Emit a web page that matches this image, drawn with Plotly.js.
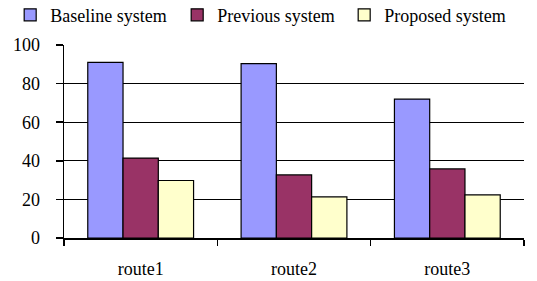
<!DOCTYPE html>
<html>
<head>
<meta charset="utf-8">
<script src="https://cdn.plot.ly/plotly-3.0.1.min.js"></script>
<style>html,body{margin:0;padding:0;background:#fff;}#chart{width:537px;height:281px;}</style>
</head>
<body>
<div id="chart"></div>
<script>
const categories = ["route1", "route2", "route3"];
const seriesNames = ["Baseline system", "Previous system", "Proposed system"];
const baseline = [91, 90.3, 72];
const previous = [41.4, 32.7, 35.8];
const proposed = [29.8, 21.3, 22.3];
const yTicks = [0, 20, 40, 60, 80, 100];
const colors = ["#9999FF", "#993366", "#FFFFCC"];

const values = [baseline, previous, proposed];
const traces = values.map((v, i) => ({
  type: "bar",
  name: seriesNames[i],
  x: categories,
  y: v,
  marker: { color: colors[i], line: { color: "#000", width: 1.2 } },
  hoverinfo: "none"
}));

const FAMILY = "Liberation Serif";
const mkFont = () => ({ family: FAMILY, size: 18, color: "#000" });

const layout = {
  width: 537, height: 281,
  margin: { l: 64, r: 13, t: 45, b: 43, autoexpand: false },
  paper_bgcolor: "#fff", plot_bgcolor: "#fff",
  font: mkFont(),
  barmode: "group",
  bargap: 0.31,
  bargroupgap: 0,
  showlegend: true,
  legend: {
    orientation: "h", xref: "paper", yref: "paper",
    x: -0.117, xanchor: "left", y: 1.155, yanchor: "middle",
    font: mkFont(), entrywidth: 122, entrywidthmode: "pixels",
    itemwidth: 30, tracegroupgap: 0, bgcolor: "rgba(0,0,0,0)"
  },
  xaxis: {
    type: "category",
    showline: true, linecolor: "#000", linewidth: 1.5,
    ticks: "outside", tickson: "boundaries", ticklen: 6, tickcolor: "#000", tickwidth: 1.5,
    showgrid: false, zeroline: false,
    tickfont: mkFont(), ticklabelstandoff: 14
  },
  yaxis: {
    range: [0, 100], tickvals: yTicks, ticktext: yTicks.map(String),
    showline: true, linecolor: "#000", linewidth: 1.5,
    ticks: "outside", ticklen: 7, tickcolor: "#000", tickwidth: 1.5,
    showgrid: true, gridcolor: "#000", gridwidth: 1.2,
    zeroline: false, tickfont: mkFont(), ticklabelstandoff: 12
  }
};

Plotly.newPlot("chart", traces, layout, { staticPlot: true, displayModeBar: false });
</script>
</body>
</html>
